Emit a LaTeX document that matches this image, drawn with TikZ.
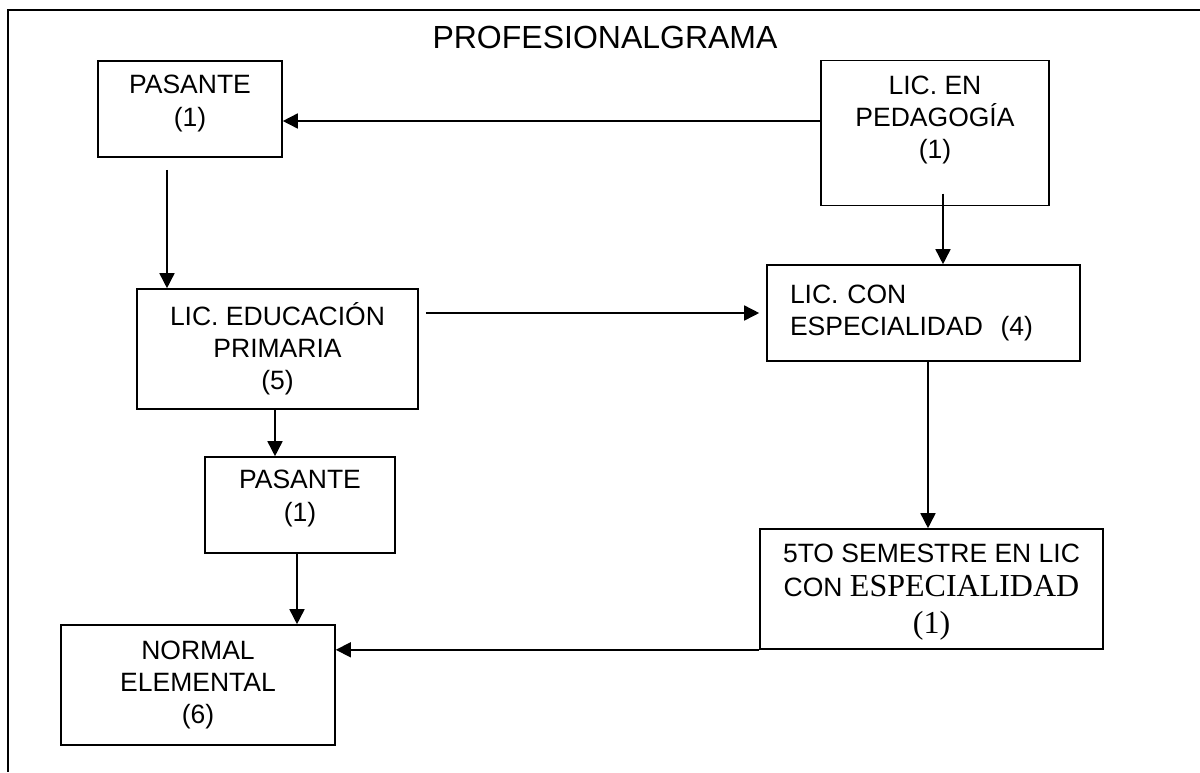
\documentclass[tikz,border=0pt]{standalone}
\usepackage{fontspec}
\setmainfont{Liberation Sans}
\newfontfamily\romana{Liberation Serif}
\usetikzlibrary{arrows.meta}

\begin{document}
\begin{tikzpicture}[x=0.5pt,y=-0.5pt]
\tikzset{basico/.style={line width=0.8pt}}
\tikzset{caja/.style={basico, draw, rectangle, align=center, inner sep=0pt,
  font=\fontsize{13.25}{16}\selectfont}}
\tikzset{flecha/.style={basico, draw, -{Triangle[length=7.5pt,width=7.5pt]}}}
\tikzset{marco/.style={basico, draw}}

\useasboundingbox (0,0) rectangle (1200,772);
\path[marco] (1200,10) -- (8,10) -- (8,772);

\node[font=\fontsize{16}{19}\selectfont](titulo)at(605,37){PROFESIONALGRAMA};

\node[caja, minimum width=92pt, minimum height=48pt, text depth=7.8pt](pasanteA)at(190,109){PASANTE\\[0.5pt](1)};
\node[caja, minimum width=114pt, minimum height=72.5pt, text depth=15.8pt](pedagogia)at(935,133){LIC. EN\\PEDAGOGÍA\\(1)};
\node[caja, minimum width=140.5pt, minimum height=60pt](educacion)at(277.5,349){LIC. EDUCACIÓN\\PRIMARIA\\(5)};
\node[caja, align=left, text width=133.5pt, inner xsep=11.5pt, minimum height=48pt](especialidad)at(923.5,313){LIC. CON\\ESPECIALIDAD\ \ (4)};
\node[caja, minimum width=95pt, minimum height=48pt, text depth=8.8pt](pasanteB)at(300,505){PASANTE\\[0.5pt](1)};
\node[caja, minimum width=137pt, minimum height=60pt](normal)at(198,685){NORMAL\\ELEMENTAL\\(6)};
\node[caja, minimum width=171.5pt, minimum height=60pt, text depth=-3.5pt](semestre)at(931.5,589){5TO SEMESTRE EN LIC\\[1pt]CON {\romana\fontsize{16}{18}\selectfont ESPECIALIDAD}\\[2.5pt]{\romana\fontsize{16}{18}\selectfont (1)}};

\path[flecha] (pedagogia.west |- 0,121) -- (pasanteA.east |- 0,121);
\path[flecha, shorten <=6pt] (pasanteA.south -| 167,0) -- (educacion.north -| 167,0);
\path[flecha, shorten <=3.5pt, shorten >=3.5pt] (educacion.east |- 0,313) -- (especialidad.west |- 0,313);
\path[flecha, shorten <=-6.3pt] (pedagogia.south -| 943,0) -- (especialidad.north -| 943,0);
\path[flecha] (especialidad.south -| 928,0) -- (semestre.north -| 928,0);
\path[flecha] (educacion.south -| 275,0) -- (pasanteB.north -| 275,0);
\path[flecha] (pasanteB.south -| 297,0) -- (normal.north -| 297,0);
\path[flecha] (semestre.south west) -- (normal.east |- semestre.south);
\end{tikzpicture}
\end{document}
